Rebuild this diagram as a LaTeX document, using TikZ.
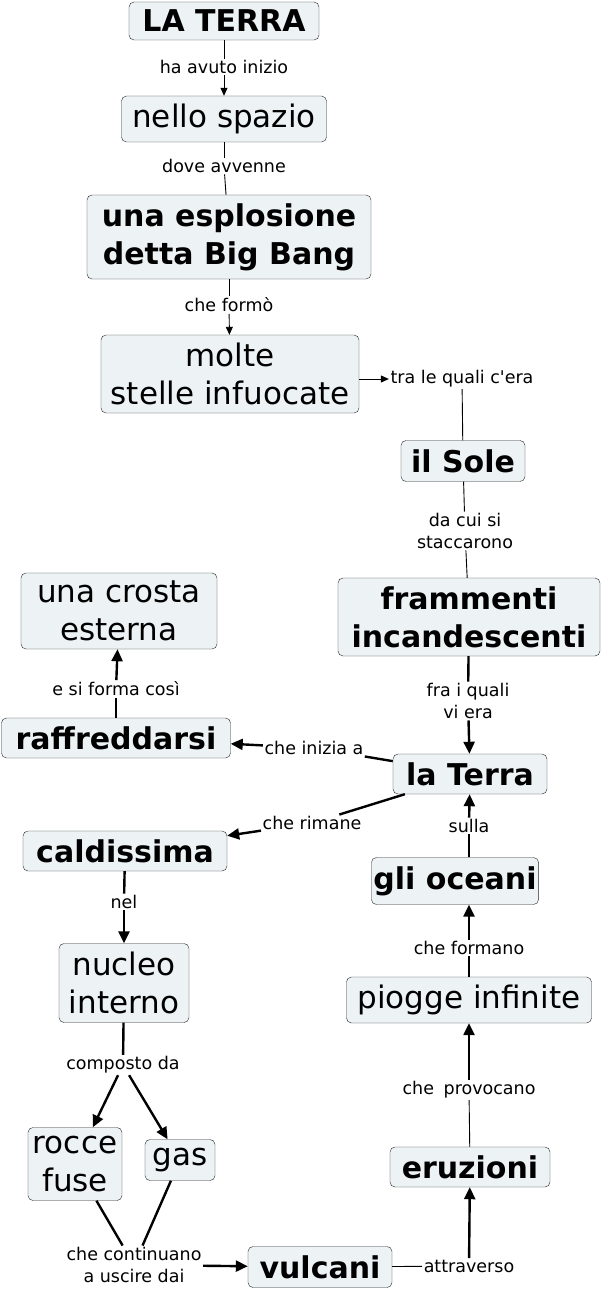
\documentclass[tikz,border=0pt]{standalone}
\usepackage{fontspec}
\setmainfont{DejaVu Sans}
\usetikzlibrary{arrows.meta}
\definecolor{cmapfill}{HTML}{EDF3F5}

\begin{document}
\begin{tikzpicture}[
  x=1pt, y=-1pt,
  concept/.style={draw=black!85,fill=cmapfill,rounded corners=5pt,inner sep=2pt,align=center,
    font=\fontsize{31}{38}\selectfont},
  bconcept/.style={concept,font=\fontsize{30}{38}\selectfont\bfseries},
  lbl/.style={inner sep=1.5pt,align=center,font=\fontsize{17.5}{22}\selectfont},
  thinlink/.style={line width=0.9pt},
  thinarr/.style={thinlink,-{Triangle[length=8pt,width=7pt]}},
  boldlink/.style={line width=2.4pt},
  boldarr/.style={boldlink,-{Triangle[length=12pt,width=11pt]}},
]
\useasboundingbox (0,0) rectangle (603,1289);

% ---- concepts ----
\node[bconcept,minimum width=190pt,minimum height=38pt] (terra)   at (224,21)   {LA TERRA};
\node[concept, minimum width=205pt,minimum height=46pt] (spazio)  at (224,119)  {nello spazio};
\node[bconcept,minimum width=284pt,minimum height=84pt] (bigbang) at (229,237)  {una esplosione\\detta Big Bang};
\node[concept, minimum width=258pt,minimum height=78pt] (stelle)  at (230,374)  {molte\\stelle infuocate};
\node[bconcept,minimum width=124pt,minimum height=41pt] (sole)    at (463,461)  {il Sole};
\node[bconcept,minimum width=262pt,minimum height=78pt] (framm)   at (469,617)  {frammenti\\incandescenti};
\node[concept, minimum width=196pt,minimum height=76pt] (crosta)  at (119,611)  {una crosta\\esterna};
\node[bconcept,minimum width=229pt,minimum height=40pt] (raffr)   at (116,738)  {raffreddarsi};
\node[bconcept,minimum width=154pt,minimum height=40pt] (laterra) at (470,774)  {la Terra};
\node[bconcept,minimum width=204pt,minimum height=40pt] (caldo)   at (125,851)  {caldissima};
\node[bconcept,minimum width=159pt,minimum height=47pt] (oceani)  at (455,881)  {gli oceani};
\node[concept, minimum width=130pt,minimum height=79pt] (nucleo)  at (124,983)  {nucleo\\interno};
\node[concept, minimum width=245pt,minimum height=46pt] (piogge)  at (469,1000) {piogge infinite};
\node[concept, minimum width=94pt, minimum height=73pt] (rocce)   at (75,1164)  {rocce\\fuse};
\node[concept, minimum width=70pt, minimum height=41pt] (gas)     at (180,1160) {gas};
\node[bconcept,minimum width=160pt,minimum height=40pt] (eruz)    at (470,1167) {eruzioni};
\node[bconcept,minimum width=144pt,minimum height=41pt] (vulc)    at (320,1267) {vulcani};

% ---- link labels ----
\node[lbl] (l1)  at (224,67)   {ha avuto inizio};
\node[lbl] (l2)  at (224,166)  {dove avvenne};
\node[lbl] (l3)  at (229,305)  {che formò};
\node[lbl] (l4)  at (462,379)  {tra le quali c\textquotesingle era};
\node[lbl] (l5)  at (465,531)  {da cui si\\staccarono};
\node[lbl] (l6)  at (468,701)  {fra i quali\\vi era};
\node[lbl] (l7)  at (116,689)  {e si forma così};
\node[lbl] (l8)  at (314,748)  {che inizia a};
\node[lbl] (l9)  at (312,823)  {che rimane};
\node[lbl] (l10) at (469,826)  {sulla};
\node[lbl] (l11) at (124,902)  {nel};
\node[lbl] (l12) at (469,948)  {che formano};
\node[lbl] (l13) at (469,1090) {che\hspace{0.55em}provocano};
\node[lbl] (l14) at (123,1065) {composto da};
\node[lbl] (l15) at (134,1265) {che continuano\\a uscire dai};
\node[lbl] (l16) at (469,1266) {attraverso};

% ---- links ----
\draw[thinlink] (terra) -- (l1);
\draw[thinarr] (l1) -- (spazio);
\draw[thinlink] (spazio) -- (l2);
\draw[thinlink] (l2) -- (bigbang);
\draw[thinlink] (bigbang) -- (l3);
\draw[thinarr] (l3) -- (stelle);
\draw[thinarr] (stelle.east |- l4.west) -- (l4.west);
\draw[thinlink] (l4) -- (sole);
\draw[thinlink] (sole) -- (l5);
\draw[thinlink] (l5) -- (framm);
\draw[boldlink] (framm) -- (l6);
\draw[boldarr] (l6) -- (laterra);
\draw[boldlink] (laterra) -- (l8);
\draw[boldarr] (l8) -- (raffr);
\draw[boldlink] (laterra) -- (l9);
\draw[boldarr] (l9) -- (caldo);
\draw[boldlink] (raffr) -- (l7);
\draw[boldarr] (l7) -- (crosta);
\draw[boldlink] (l10 |- oceani.north) -- (l10);
\draw[boldarr] (l10) -- (laterra);
\draw[boldlink] (piogge) -- (l12);
\draw[boldarr] (l12) -- (l12 |- oceani.south);
\draw[thinlink] (eruz) -- (l13);
\draw[boldarr] (l13) -- (piogge);
\draw[thinlink] (vulc) -- (l16);
\draw[boldarr] (l16) -- (eruz);
\draw[boldlink] (caldo) -- (l11);
\draw[boldarr] (l11) -- (nucleo);
\draw[boldlink] (nucleo) -- (l14);
\draw[boldarr] (l14) -- (rocce);
\draw[boldarr] (l14) -- (gas);
\draw[boldlink] (rocce) -- (l15);
\draw[boldlink] (gas) -- (l15);
\draw[boldarr] (l15) -- (vulc);
\end{tikzpicture}
\end{document}
